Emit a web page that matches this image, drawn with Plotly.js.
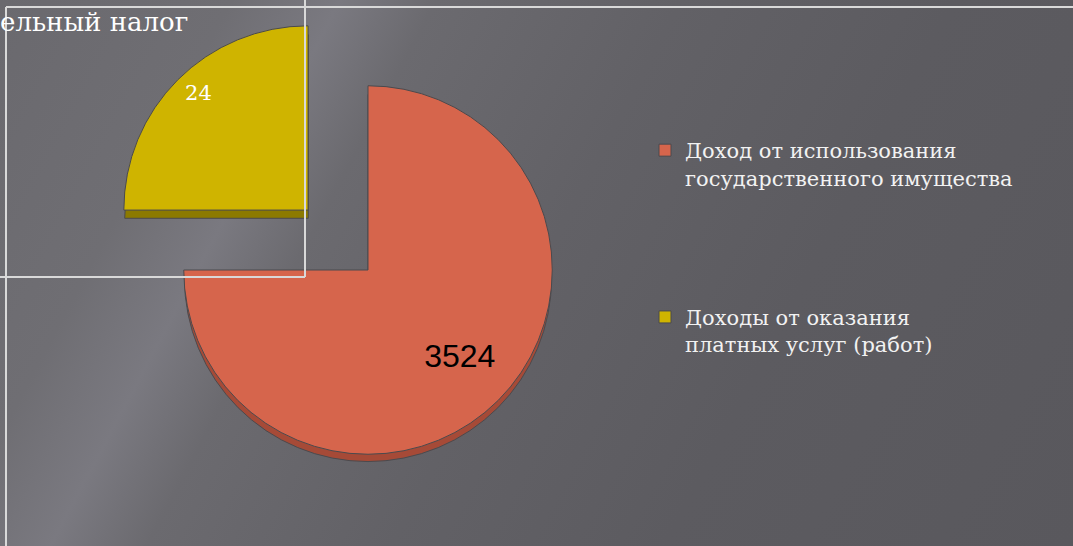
<!DOCTYPE html>
<html>
<head>
<meta charset="utf-8">
<script src="https://cdn.plot.ly/plotly-3.0.1.min.js"></script>
<style>
html,body{margin:0;padding:0;}
#chart{width:1073px;height:546px;
background:linear-gradient(118deg,#6a696e 0%,#6f6e73 17%,#7a7980 25%,#6b6a6f 32%,#626166 50%,#5c5b60 70%,#59585d 100%);}
</style>
</head>
<body>
<div id="chart"></div>
<script>
// Data
var categories = ['Доход от использования<br>государственного имущества', 'Доходы от оказания<br>платных услуг (работ)'];
var sliceShares = [75, 25];          // angular share of each slice as drawn
var valueLabels = ['3524', '24'];    // numbers printed on the slices
var chartTitle = 'ельный налог';     // visible part of the slide title

var topColors = ['#d6654c', '#cfb400'];
var sideColors = ['#a64a37', '#8c7a00'];

// spacing helpers (non-breaking padding to move label text within its slice)
var NB = '\u00a0';
function rep(s, n){ var o=''; for(var i=0;i<n;i++) o+=s; return o; }
var sliceText = [
  NB + '<br>' + rep(NB, 6) + valueLabels[0],
  valueLabels[1] + rep(NB, 10) + '<br>' + NB + '<br>' + NB + '<br>' + NB
];
var padLegend = categories.map(function(c, i){ return i === 0 ? c + '<br> <br> <br> <br>' : c; });

var sideTrace = {
  type: 'pie', values: sliceShares, labels: padLegend, sort: false,
  direction: 'clockwise', rotation: 0, pull: [0, 0.46],
  marker: {colors: sideColors, line: {color: '#4a4a4e', width: 1}},
  textinfo: 'none', hoverinfo: 'skip', showlegend: false,
  domain: {x: [99/1073, 637/1073], y: [0, 536/546]}
};
var faceTrace = {
  type: 'pie', values: sliceShares, labels: padLegend, sort: false,
  direction: 'clockwise', rotation: 0, pull: [0, 0.46],
  marker: {colors: topColors, line: {color: '#4a4a4e', width: 1}},
  text: sliceText, textinfo: 'text', textposition: 'inside',
  insidetextorientation: 'horizontal',
  textfont: {family: ['Liberation Sans', 'DejaVu Serif'], size: [32, 21], color: ['#000000', '#ffffff']},
  domain: {x: [99/1073, 637/1073], y: [7/546, 545/546]}
};

var layout = {
  width: 1073, height: 546,
  margin: {l: 0, r: 0, t: 0, b: 0},
  paper_bgcolor: 'rgba(0,0,0,0)', plot_bgcolor: 'rgba(0,0,0,0)',
  title: {text: chartTitle, x: 0, xanchor: 'left', xref: 'container',
          y: 1 - 22/546, yanchor: 'middle', yref: 'container',
          font: {family: 'DejaVu Serif', size: 26, color: '#ffffff'}},
  showlegend: true,
  legend: {x: 645/1073, y: 1 - 130/546, xanchor: 'left', yanchor: 'top',
           valign: 'top', bgcolor: 'rgba(0,0,0,0)',
           font: {family: 'DejaVu Serif', size: 21, color: '#f2f2f2'}},
  shapes: [
    {type: 'line', xref: 'paper', yref: 'paper', x0: 6/1073, x1: 1, y0: 1 - 7/546, y1: 1 - 7/546, line: {color: '#d9d9d9', width: 2}},
    {type: 'line', xref: 'paper', yref: 'paper', x0: 6/1073, x1: 6/1073, y0: 1 - 7/546, y1: 0, line: {color: '#d9d9d9', width: 2}},
    {type: 'line', xref: 'paper', yref: 'paper', x0: 305/1073, x1: 305/1073, y0: 1, y1: 1 - 277/546, line: {color: '#d9d9d9', width: 2}},
    {type: 'line', xref: 'paper', yref: 'paper', x0: 0, x1: 305/1073, y0: 1 - 277/546, y1: 1 - 277/546, line: {color: '#d9d9d9', width: 2}}
  ]
};

Plotly.newPlot('chart', [sideTrace, faceTrace], layout, {displayModeBar: false, staticPlot: true});
</script>
</body>
</html>
